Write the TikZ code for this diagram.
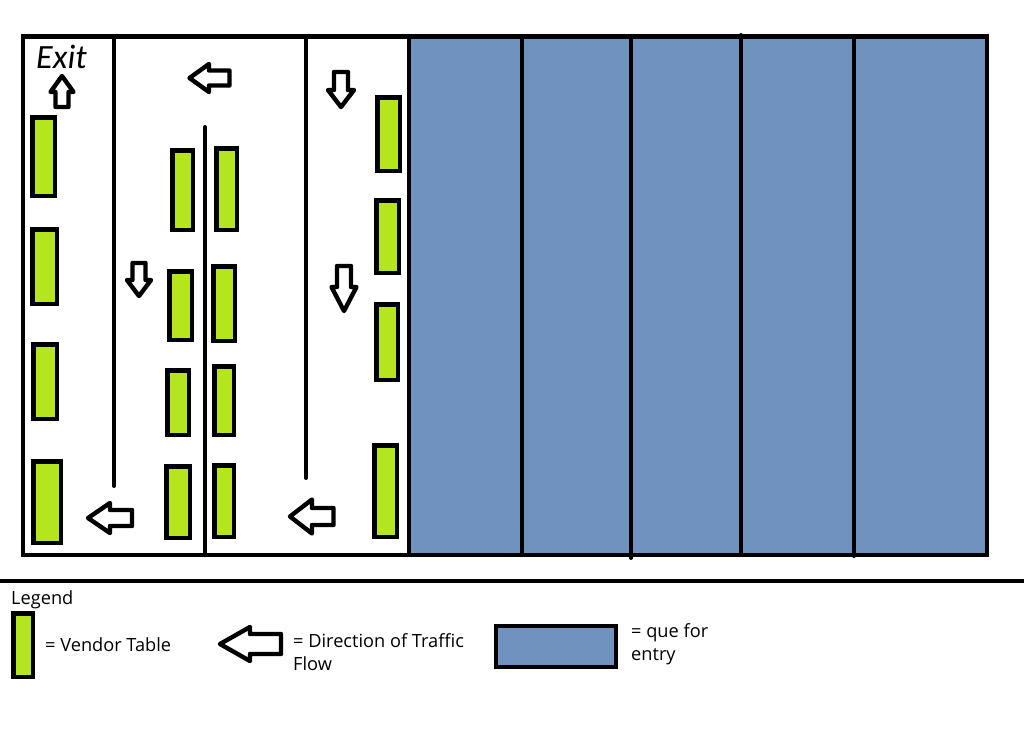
\documentclass[tikz,border=0pt]{standalone}
\usepackage{fontspec}
\setmainfont{Open Sans}
\newfontfamily\exitfont{Carlito}
\definecolor{lime}{HTML}{B5E61D}
\definecolor{steel}{HTML}{7092BE}
\tikzset{
  tbl/.style={draw=black,fill=lime,line width=4.5pt,line join=miter},
  que/.style={draw=black,fill=steel,line width=4.5pt},
  wall/.style={draw=black,line width=4pt,line cap=round},
  flow/.style={draw=black,fill=white,line width=4.4pt,line join=round},
  lbl/.style={inner sep=0pt,anchor=base west,font=\fontsize{18.2pt}{20pt}\selectfont},
}
% outer-edge box: x1 y1 x2 y2 in pixels, stroke inset by half its width
\newcommand{\tb}[4]{\path[tbl] (#1+2.25,#2+2.25) rectangle (#3-2.25,#4-2.25);}
% left arrow: tip x, centre y, neck x, end x, head half, shaft half
\newcommand{\al}[6]{\path[flow] (#1,#2) -- (#3,#2-#5) -- (#3,#2-#6) -- (#4,#2-#6) -- (#4,#2+#6) -- (#3,#2+#6) -- (#3,#2+#5) -- cycle;}
% vertical arrow: tip y, centre x, neck y, end y, head half, shaft half
\newcommand{\av}[6]{\path[flow] (#2,#1) -- (#2-#5,#3) -- (#2-#6,#3) -- (#2-#6,#4) -- (#2+#6,#4) -- (#2+#6,#3) -- (#2+#5,#3) -- cycle;}
\begin{document}
\begin{tikzpicture}[x=1pt,y=-1pt]
\useasboundingbox[fill=white] (0,0) rectangle (1024,728);
% queue area
\path[que] (409,36.5) rectangle (987,555);
\draw[wall] (522,36.5) -- (522,555);
\draw[wall] (631,36.5) -- (631,558);
\draw[wall] (741,35) -- (741,555);
\draw[wall] (854,36.5) -- (854,556);
% floor
\draw[line width=4.5pt] (23,36.5) rectangle (409,555);
\draw[wall] (114,36.5) -- (114,486);
\draw[wall] (306,36.5) -- (306,478);
\draw[wall] (205,127) -- (205,555);
% tables
\tb{30}{115}{57}{198}
\tb{30}{227}{59}{306}
\tb{31}{342}{59}{421}
\tb{31}{459}{63}{545}
\tb{170}{148}{195}{232}
\tb{167}{269}{194}{342}
\tb{165}{368}{191}{437}
\tb{164}{464}{192}{540}
\tb{214}{146}{239}{232}
\tb{211}{264}{237}{343}
\tb{212}{364}{236}{437}
\tb{212}{463}{236}{539}
\tb{375}{95}{402}{173}
\tb{374}{198}{401}{275}
\tb{374}{302}{400}{382}
\tb{372}{443}{399}{539}
% arrows
\al{189.5}{78}{209}{229.5}{14}{7.5}
\al{88}{518}{110}{132}{15}{8}
\al{290}{516.5}{312}{333.5}{17}{8.5}
\av{107}{341}{90}{72}{13}{7}
\av{296}{139}{280}{263}{12}{6.5}
\av{311}{344}{287}{266}{12.5}{7}
\av{76}{62}{92}{107}{11.5}{6.5}
\node[inner sep=0pt,anchor=base west,font=\exitfont\itshape\fontsize{34pt}{36pt}\selectfont] (exit) at (36,68) {Exit};
% legend
\draw[line width=4pt] (0,581) -- (1024,581);
\node[lbl] (legend) at (11,604) {Legend};
\tb{11}{611}{35}{679}
\node[lbl] (vt) at (45,651) {= Vendor Table};
\al{220}{644}{250}{281}{17}{10}
\node[lbl] (dir) at (293,647) {= Direction of Traffic};
\node[lbl] (flow) at (293,670) {Flow};
\path[que] (496,626) rectangle (616,667);
\node[lbl] (que) at (631,637) {= que for};
\node[lbl] (ent) at (631,660) {entry};
\end{tikzpicture}
\end{document}
